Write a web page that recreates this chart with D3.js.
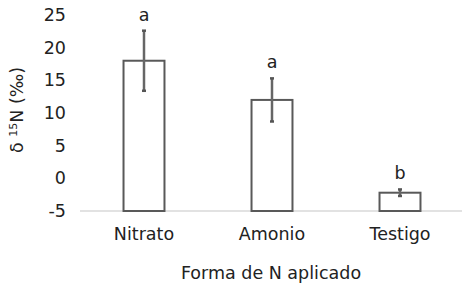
<!DOCTYPE html>
<html>
<head>
<meta charset="utf-8">
<script src="https://cdn.jsdelivr.net/npm/d3@7"></script>
<style>
  body { margin: 0; background: #fff; }
  text { font-family: "DejaVu Sans", Verdana, sans-serif; fill: #222; }
</style>
</head>
<body>
<div id="viz"></div>
<script>
var categories = ["Nitrato", "Amonio", "Testigo"];
var means = [18, 12, -2.2];
var errors = [4.6, 3.3, 0.5];
var letters = ["a", "a", "b"];
var yTicks = [-5, 0, 5, 10, 15, 20, 25];

var width = 476, height = 283;
var plot_left = 80, plot_right = 464, plot_top = 15, plot_bottom = 211;
var font_size = "17.5px";
var bar_colour = "#595959";

var svg = d3.select("#viz")
  .append("svg")
  .attr("width", width)
  .attr("height", height);

var x = d3.scaleBand()
  .domain(categories)
  .range([plot_left, plot_right])
  .paddingInner(0.68)
  .paddingOuter(0.34);

var y = d3.scaleLinear()
  .domain([-5, 25])
  .range([plot_bottom, plot_top]);

// y tick labels only, no axis line (plain hyphen for negatives)
var yAxis = svg.append("g")
  .attr("transform", "translate(" + (plot_left - 14) + ",0)")
  .call(d3.axisLeft(y).tickValues(yTicks).tickSize(0).tickPadding(0)
    .tickFormat(function(d) { return String(d); }));
yAxis.select(".domain").remove();
yAxis.selectAll("text").style("font-size", font_size).style("font-family", "DejaVu Sans").attr("fill", "#222");

// baseline
svg.append("line")
  .attr("x1", plot_left).attr("x2", plot_right - 2)
  .attr("y1", y(-5)).attr("y2", y(-5))
  .attr("stroke", "#d9d9d9")
  .attr("stroke-width", 1.5);

// bars from axis minimum
svg.selectAll(".bar")
  .data(categories)
  .enter().append("rect")
  .attr("class", "bar")
  .attr("x", function(d) { return x(d); })
  .attr("width", x.bandwidth())
  .attr("y", function(d, i) { return y(means[i]); })
  .attr("height", function(d, i) { return y(-5) - y(means[i]); })
  .attr("fill", "#fff")
  .attr("stroke", bar_colour)
  .attr("stroke-width", 2);

// error bars
var eb = svg.selectAll(".err")
  .data(categories)
  .enter().append("g")
  .attr("class", "err");
eb.append("line")
  .attr("x1", function(d) { return x(d) + x.bandwidth() / 2; })
  .attr("x2", function(d) { return x(d) + x.bandwidth() / 2; })
  .attr("y1", function(d, i) { return y(means[i] + errors[i]); })
  .attr("y2", function(d, i) { return y(means[i] - errors[i]); })
  .attr("stroke", "#666")
  .attr("stroke-width", 2.5);
eb.append("line")
  .attr("x1", function(d) { return x(d) + x.bandwidth() / 2 - 2; })
  .attr("x2", function(d) { return x(d) + x.bandwidth() / 2 + 2; })
  .attr("y1", function(d, i) { return y(means[i] + errors[i]); })
  .attr("y2", function(d, i) { return y(means[i] + errors[i]); })
  .attr("stroke", "#555")
  .attr("stroke-width", 2.5);
eb.append("line")
  .attr("x1", function(d) { return x(d) + x.bandwidth() / 2 - 2; })
  .attr("x2", function(d) { return x(d) + x.bandwidth() / 2 + 2; })
  .attr("y1", function(d, i) { return y(means[i] - errors[i]); })
  .attr("y2", function(d, i) { return y(means[i] - errors[i]); })
  .attr("stroke", "#555")
  .attr("stroke-width", 2.5);

// significance letters
svg.selectAll(".letter")
  .data(categories)
  .enter().append("text")
  .attr("class", "letter")
  .attr("x", function(d) { return x(d) + x.bandwidth() / 2; })
  .attr("y", function(d, i) { return y(means[i] + errors[i]) - 10; })
  .attr("text-anchor", "middle")
  .style("font-size", font_size)
  .text(function(d, i) { return letters[i]; });

// category labels
svg.selectAll(".cat")
  .data(categories)
  .enter().append("text")
  .attr("class", "cat")
  .attr("x", function(d) { return x(d) + x.bandwidth() / 2; })
  .attr("y", 240)
  .attr("text-anchor", "middle")
  .style("font-size", font_size)
  .text(function(d) { return d; });

// x title
svg.append("text")
  .attr("x", (plot_left + plot_right) / 2 - 1)
  .attr("y", 279)
  .attr("text-anchor", "middle")
  .style("font-size", font_size)
  .text("Forma de N aplicado");

// y title
var yt = svg.append("text")
  .attr("transform", "translate(23,110) rotate(-90)")
  .attr("text-anchor", "middle")
  .style("font-size", font_size);
yt.append("tspan").text("δ ");
yt.append("tspan").attr("baseline-shift", "super").style("font-size", "11px").text("15");
yt.append("tspan").text("N (‰)");
</script>
</body>
</html>
